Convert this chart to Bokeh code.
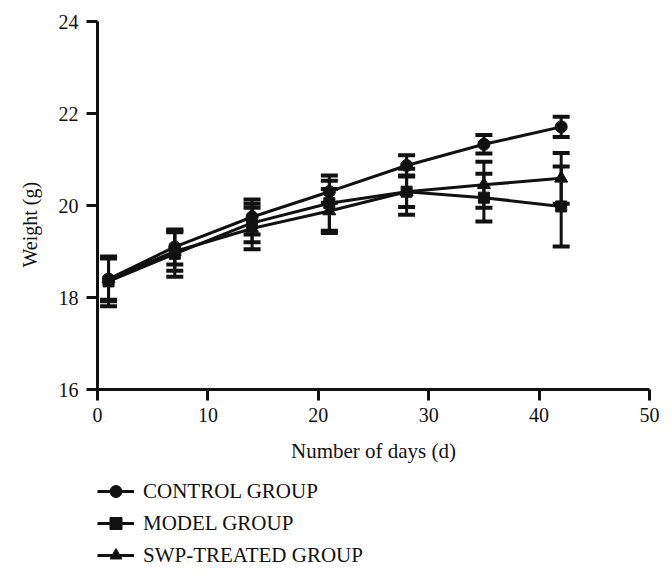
from bokeh.plotting import figure
from bokeh.layouts import column
from bokeh.models import (Range1d, Whisker, TeeHead, ColumnDataSource, Legend,
                          LegendItem, Title, FixedTicker)
from bokeh.embed import file_html
from bokeh.resources import INLINE

days = [1, 7, 14, 21, 28, 35, 42]
control = [18.40, 19.10, 19.75, 20.30, 20.87, 21.33, 21.71]
control_err = [0.48, 0.38, 0.38, 0.24, 0.22, 0.20, 0.22]
model = [18.35, 18.95, 19.62, 20.05, 20.30, 20.17, 19.98]
model_err = [0.54, 0.50, 0.42, 0.60, 0.50, 0.52, 0.87]
swp = [18.40, 19.00, 19.50, 19.88, 20.30, 20.45, 20.59]
swp_err = [0.45, 0.42, 0.45, 0.48, 0.33, 0.50, 0.55]
x_ticks = [0, 10, 20, 30, 40, 50]
y_ticks = [16, 18, 20, 22, 24]
names = ["CONTROL GROUP", "MODEL GROUP", "SWP-TREATED GROUP"]

FONT = "Liberation Serif"
INK = "#111111"

p = figure(frame_width=552, frame_height=368, min_border_left=97, min_border_right=19,
           min_border_top=21, min_border_bottom=80,
           x_range=Range1d(0, 50), y_range=Range1d(16, 24),
           output_backend="svg", toolbar_location=None)
p.xgrid.visible = False
p.ygrid.visible = False
p.outline_line_color = None
p.background_fill_color = "white"

for ax in (p.xaxis[0], p.yaxis[0]):
    ax.axis_line_width = 3
    ax.axis_line_color = INK
    ax.major_tick_line_width = 3
    ax.major_tick_line_color = INK
    ax.major_tick_out = 11
    ax.major_tick_in = 0
    ax.minor_tick_out = 0
    ax.minor_tick_in = 0
    ax.major_label_text_font = FONT
    ax.major_label_text_font_size = "20px"
    ax.major_label_text_color = INK
p.xaxis.ticker = FixedTicker(ticks=x_ticks)
p.yaxis.ticker = FixedTicker(ticks=y_ticks)
p.xaxis.major_label_standoff = 7
p.yaxis.major_label_standoff = 8
p.xaxis.axis_label = "Number of days (d)"
p.xaxis.axis_label_text_font = FONT
p.xaxis.axis_label_text_font_size = "21px"
p.xaxis.axis_label_text_font_style = "normal"
p.xaxis.axis_label_text_color = INK
p.xaxis.axis_label_standoff = 14

ytitle = Title(text="Weight (g)", align="left", offset=122, standoff=30,
               text_font=FONT, text_font_size="20px", text_font_style="normal",
               text_color=INK)
p.add_layout(ytitle, "left")

# legend strip below the chart (its own frame, so the legend is not clipped)
lg = figure(width=668, height=106, x_range=Range1d(-20, -10), y_range=Range1d(-20, -10),
            min_border_left=0, min_border_right=0, min_border_top=0, min_border_bottom=0,
            x_axis_location=None, y_axis_location=None,
            output_backend="svg", toolbar_location=None)
lg.xgrid.visible = False
lg.ygrid.visible = False
lg.outline_line_color = None

series = [(control, control_err, "circle", 12),
          (model, model_err, "square", 11),
          (swp, swp_err, "triangle", 13)]
items = []
for (vals, errs, marker, size), name in zip(series, names):
    src = ColumnDataSource(dict(x=days, y=vals,
                                lo=[v - e for v, e in zip(vals, errs)],
                                hi=[v + e for v, e in zip(vals, errs)]))
    w = Whisker(base="x", lower="lo", upper="hi", source=src, line_width=3, line_color=INK,
                upper_head=TeeHead(size=17, line_width=4, line_color=INK),
                lower_head=TeeHead(size=17, line_width=4, line_color=INK))
    p.add_layout(w)
    p.line("x", "y", source=src, line_width=3, line_color=INK)
    p.scatter("x", "y", source=src, marker=marker, size=size,
              fill_color=INK, line_color=INK)
    # matching key renderers in the legend strip (data lies outside its ranges)
    ln = lg.line("x", "y", source=src, line_width=3, line_color=INK)
    sc = lg.scatter("x", "y", source=src, marker=marker, size=size,
                    fill_color=INK, line_color=INK)
    items.append(LegendItem(label=name, renderers=[ln, sc]))

legend = Legend(items=items, location=(0, 5), orientation="vertical",
                glyph_width=37, glyph_height=30, spacing=2, label_standoff=9,
                padding=0, margin=0, border_line_color=None, background_fill_alpha=0,
                label_text_font=FONT, label_text_font_size="21px", label_text_color=INK)
lg.add_layout(legend, "center")

layout = column(p, lg, spacing=0)
open("out.html", "w").write(file_html(layout, INLINE))
